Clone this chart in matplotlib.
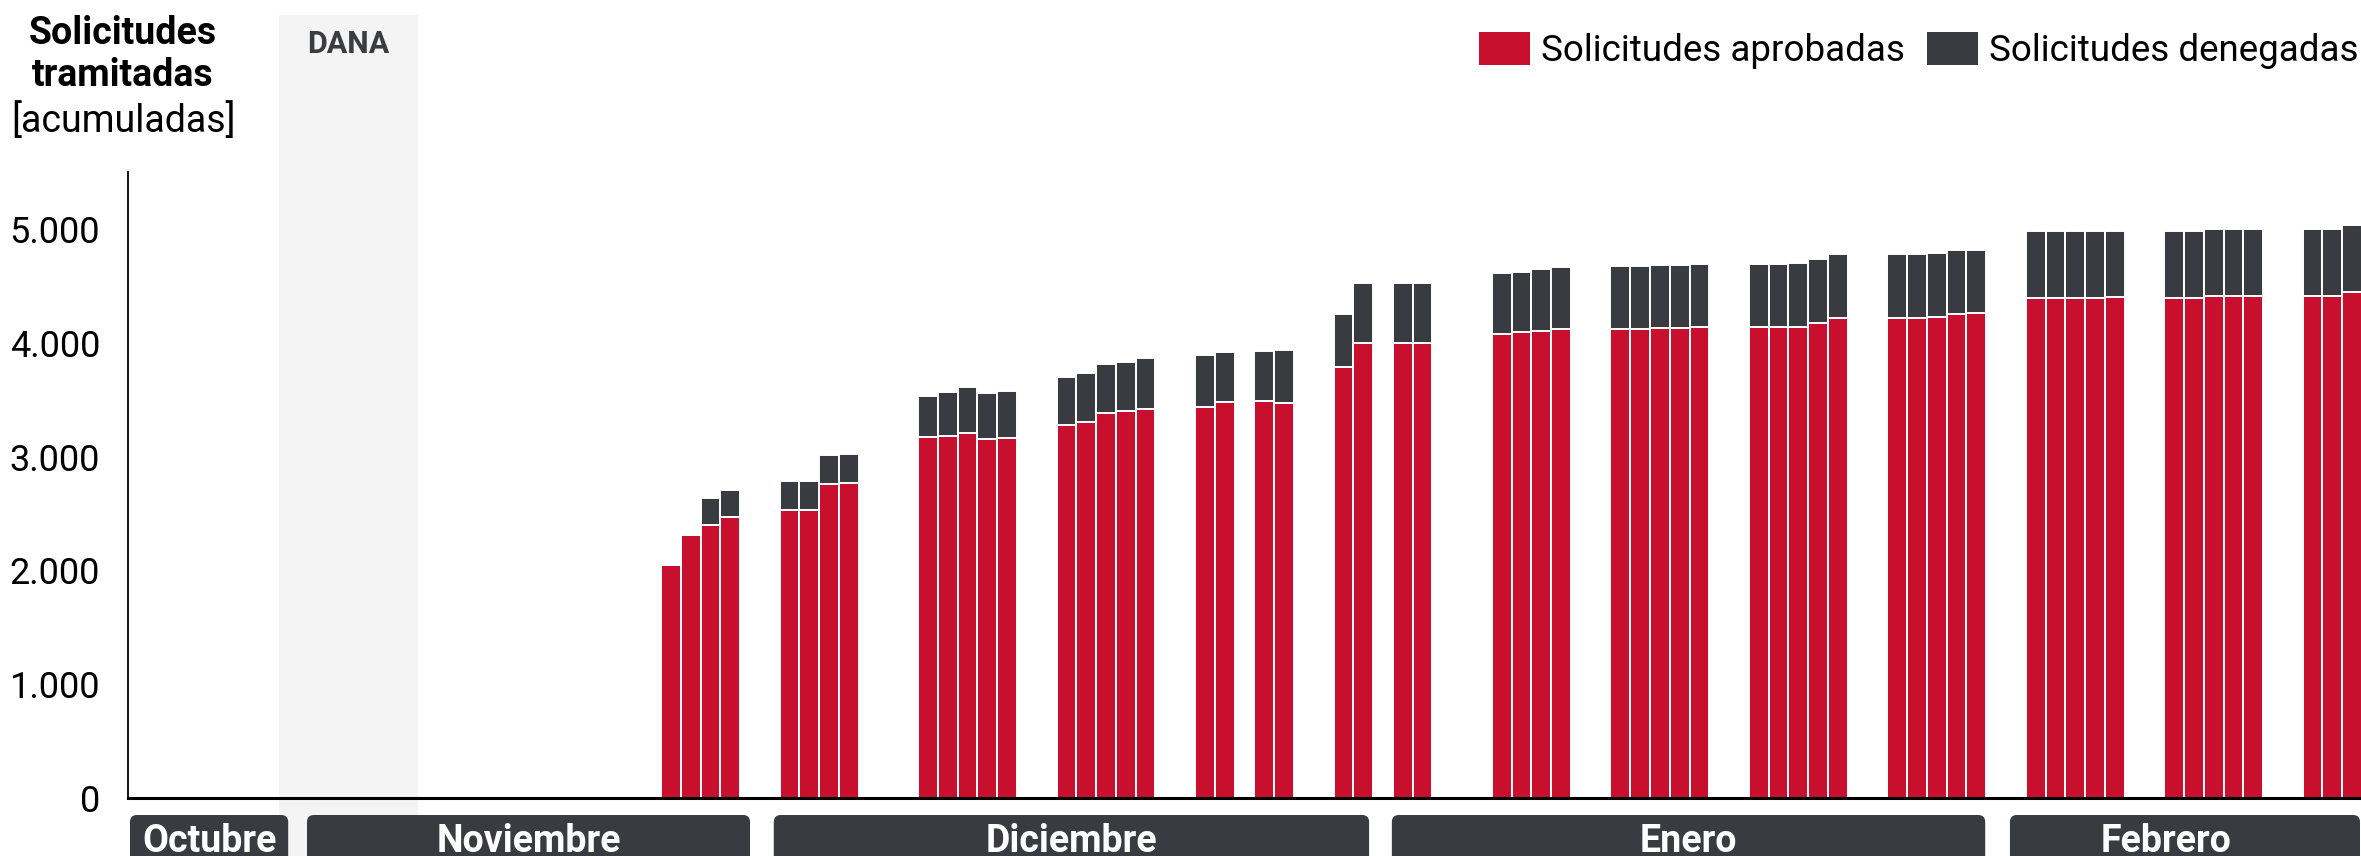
import pandas as pd
import matplotlib
matplotlib.use("Agg")
import matplotlib.pyplot as plt
from matplotlib.patches import Patch, Rectangle, FancyBboxPatch
from matplotlib.transforms import blended_transform_factory

plt.rcParams['font.family'] = ['Roboto', 'DejaVu Sans']

# cumulative requests per working day
dates = ["2024-11-26", "2024-11-27", "2024-11-28", "2024-11-29",
         "2024-12-02", "2024-12-03", "2024-12-04", "2024-12-05",
         "2024-12-09", "2024-12-10", "2024-12-11", "2024-12-12", "2024-12-13",
         "2024-12-16", "2024-12-17", "2024-12-18", "2024-12-19", "2024-12-20",
         "2024-12-23", "2024-12-24", "2024-12-26", "2024-12-27",
         "2024-12-30", "2024-12-31", "2025-01-02", "2025-01-03",
         "2025-01-07", "2025-01-08", "2025-01-09", "2025-01-10",
         "2025-01-13", "2025-01-14", "2025-01-15", "2025-01-16", "2025-01-17",
         "2025-01-20", "2025-01-21", "2025-01-22", "2025-01-23", "2025-01-24",
         "2025-01-27", "2025-01-28", "2025-01-29", "2025-01-30", "2025-01-31",
         "2025-02-03", "2025-02-04", "2025-02-05", "2025-02-06", "2025-02-07",
         "2025-02-10", "2025-02-11", "2025-02-12", "2025-02-13", "2025-02-14",
         "2025-02-17", "2025-02-18", "2025-02-19"]
aprobadas = [2050, 2310, 2400, 2465,
             2530, 2530, 2760, 2770,
             3172, 3178, 3205, 3158, 3160,
             3275, 3307, 3386, 3401, 3418,
             3433, 3477, 3485, 3471,
             3790, 3999, 3999, 3999,
             4077, 4091, 4104, 4117,
             4117, 4123, 4126, 4131, 4134,
             4134, 4137, 4140, 4174, 4218,
             4220, 4220, 4227, 4253, 4262,
             4394, 4394, 4394, 4394, 4400,
             4397, 4397, 4407, 4407, 4407,
             4407, 4407, 4442]
denegadas = [0, 0, 233, 238,
             256, 256, 254, 256,
             360, 390, 410, 398, 414,
             425, 425, 428, 433, 448,
             456, 442, 446, 469,
             465, 529, 526, 526,
             532, 533, 546, 552,
             553, 553, 553, 554, 554,
             554, 554, 561, 562, 562,
             560, 560, 559, 562, 556,
             586, 586, 586, 586, 580,
             586, 586, 590, 590, 590,
             590, 590, 590]

months = ["Octubre", "Noviembre", "Diciembre", "Enero", "Febrero"]
month_start = [-27.35, -18.4, 5.2, 36.45, 67.7]
month_end = [-19.35, 4.0, 35.3, 66.45, 85.4]
month_label_x = [-23.35, -7.2, 20.25, 51.45, 75.6]
dana_span = (-19.8, -12.8)

red = "#c8102e"
dark = "#383c40"

day0 = pd.Timestamp("2024-11-26")
x = [(pd.Timestamp(d) - day0).days for d in dates]

W, H = 2361, 856
fig = plt.figure(figsize=(W / 100, H / 100), dpi=100)
ax = fig.add_axes([128 / W, 58 / H, 1 - 128 / W, (798 - 172) / H])

# DANA band, from top of figure down through the month strip
band_tr = blended_transform_factory(ax.transData, fig.transFigure)
ax.add_patch(Rectangle((dana_span[0], 0), dana_span[1] - dana_span[0], 1 - 15 / H,
                       transform=band_tr, facecolor="#f4f4f4", edgecolor="none",
                       clip_on=False, zorder=0))
ax.text((dana_span[0] + dana_span[1]) / 2, 1 - 44 / H, "DANA", transform=band_tr,
        ha="center", va="center", fontsize=22, fontweight="bold", color="#3a3d40")

ax.bar(x, aprobadas, width=1.0, color=red, edgecolor="white", linewidth=1.4, zorder=2)
ax.bar(x, denegadas, bottom=aprobadas, width=1.0, color=dark, edgecolor="white",
       linewidth=1.4, zorder=2)

ax.set_xlim(-27.45, 85.45)
ax.set_ylim(0, 5500)
ax.set_xticks([])
ticks = list(range(0, 5001, 1000))
ax.set_yticks(ticks)
ax.set_yticklabels([f"{t:,}".replace(",", ".") for t in ticks])
ax.tick_params(axis="y", length=0, pad=20, labelsize=26)
for s in ["top", "right"]:
    ax.spines[s].set_visible(False)
ax.spines["left"].set_linewidth(1.3)
ax.spines["bottom"].set_linewidth(2.2)
ax.spines["left"].set_zorder(3)
ax.spines["bottom"].set_zorder(3)
ax.patch.set_visible(False)

# month strip under the axis
axm = fig.add_axes([128 / W, 0, 1 - 128 / W, 58 / H], sharex=ax)
axm.set_ylim(0, 58)
axm.axis("off")
px_per_day = (W - 128) / (85.45 + 27.45)
for name, s, e, lx in zip(months, month_start, month_end, month_label_x):
    axm.add_patch(FancyBboxPatch((s, -30), e - s, 71,
                                 boxstyle="round,pad=0,rounding_size=0.35",
                                 mutation_aspect=px_per_day,
                                 facecolor=dark, edgecolor="none", clip_on=False))
    axm.text(lx, 15, name, ha="center", va="center", color="white",
             fontsize=27, fontweight="bold")
axm.set_xlim(-27.45, 85.45)

# axis title
fig.text(123 / W, 1 - 34 / H, "Solicitudes", ha="center", va="center",
         fontsize=27, fontweight="bold")
fig.text(123 / W, 1 - 76 / H, "tramitadas", ha="center", va="center",
         fontsize=27, fontweight="bold")
fig.text(123 / W, 1 - 121 / H, "[acumuladas]", ha="center", va="center",
         fontsize=27)

handles = [Patch(facecolor=red, label="Solicitudes aprobadas"),
           Patch(facecolor=dark, label="Solicitudes denegadas")]
fig.legend(handles=handles, loc="upper right", bbox_to_anchor=(0.999, 0.963),
           ncol=2, frameon=False, fontsize=26.5, handlelength=1.39, handleheight=1.0,
           handletextpad=0.29, columnspacing=0.61, borderpad=0, borderaxespad=0)

fig.savefig("out.png", dpi=100)
